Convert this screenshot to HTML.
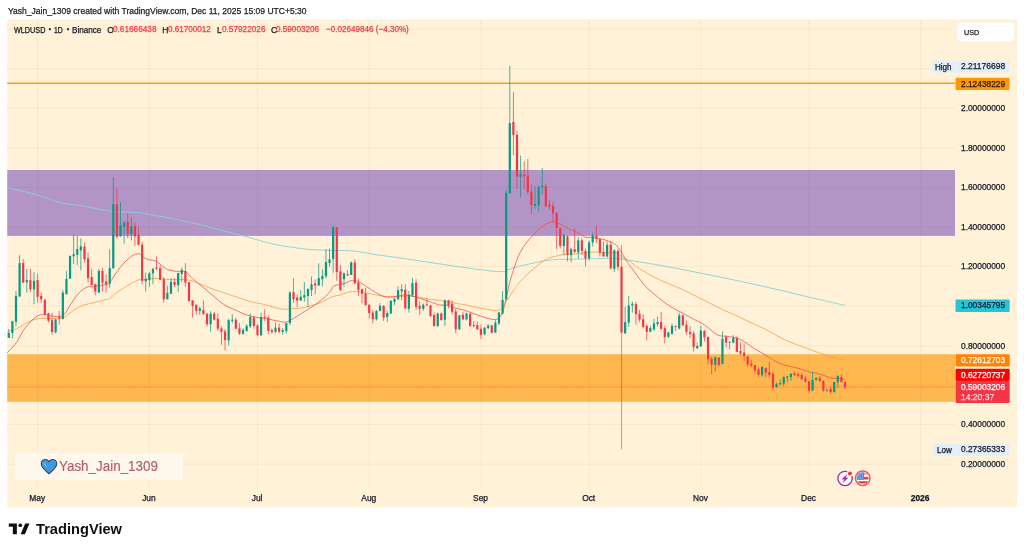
<!DOCTYPE html>
<html><head><meta charset="utf-8"><title>WLDUSD chart</title>
<style>
html,body{margin:0;padding:0;background:#ffffff;}
body{width:1024px;height:551px;position:relative;overflow:hidden;font-family:"Liberation Sans",sans-serif;}
.t{position:absolute;white-space:nowrap;display:block;transform-origin:0 0;-webkit-text-stroke:0.25px currentColor;}
</style></head><body>
<svg width="1024" height="551" viewBox="0 0 1024 551" style="position:absolute;left:0;top:0">
<rect x="7.25" y="19.3" width="1009.75" height="488.3" fill="#FFF2D8"/>
<rect x="7.25" y="170.0" width="947.75" height="65.9" fill="#B294C7"/>
<rect x="7.25" y="354.2" width="947.75" height="47.6" fill="#FFB74F"/>
<rect x="37.10" y="19.3" width="1" height="468.1" fill="rgba(120,90,20,0.06)"/>
<rect x="148.84" y="19.3" width="1" height="468.1" fill="rgba(120,90,20,0.06)"/>
<rect x="256.97" y="19.3" width="1" height="468.1" fill="rgba(120,90,20,0.06)"/>
<rect x="368.71" y="19.3" width="1" height="468.1" fill="rgba(120,90,20,0.06)"/>
<rect x="480.45" y="19.3" width="1" height="468.1" fill="rgba(120,90,20,0.06)"/>
<rect x="588.59" y="19.3" width="1" height="468.1" fill="rgba(120,90,20,0.06)"/>
<rect x="700.33" y="19.3" width="1" height="468.1" fill="rgba(120,90,20,0.06)"/>
<rect x="808.46" y="19.3" width="1" height="468.1" fill="rgba(120,90,20,0.06)"/>
<rect x="920.20" y="19.3" width="1" height="468.1" fill="rgba(120,90,20,0.06)"/>
<rect x="7.25" y="463.66" width="947.75" height="1" fill="rgba(120,90,20,0.06)"/>
<rect x="7.25" y="424.12" width="947.75" height="1" fill="rgba(120,90,20,0.06)"/>
<rect x="7.25" y="384.58" width="947.75" height="1" fill="rgba(120,90,20,0.06)"/>
<rect x="7.25" y="345.30" width="947.75" height="1" fill="rgba(120,90,20,0.06)"/>
<rect x="7.25" y="305.85" width="947.75" height="1" fill="rgba(120,90,20,0.06)"/>
<rect x="7.25" y="265.96" width="947.75" height="1" fill="rgba(120,90,20,0.06)"/>
<rect x="7.25" y="226.42" width="947.75" height="1" fill="rgba(120,90,20,0.06)"/>
<rect x="7.25" y="186.88" width="947.75" height="1" fill="rgba(120,90,20,0.06)"/>
<rect x="7.25" y="147.34" width="947.75" height="1" fill="rgba(120,90,20,0.06)"/>
<rect x="7.25" y="107.80" width="947.75" height="1" fill="rgba(120,90,20,0.06)"/>
<rect x="7.25" y="68.26" width="947.75" height="1" fill="rgba(120,90,20,0.06)"/>
<rect x="7.25" y="28.72" width="947.75" height="1" fill="rgba(120,90,20,0.06)"/>
<rect x="7.25" y="82.6" width="947.75" height="1.4" fill="#FF9800"/>
<line x1="7.25" y1="387.1" x2="955.0" y2="387.1" stroke="#F23645" stroke-width="0.9" stroke-dasharray="0.9 0.9" opacity="0.6"/>
<path d="M7.5 186.8C8.4 187.1 8.6 187.6 13.4 188.9C18.2 190.2 30.9 193.2 37.6 195.1C44.3 197.0 50.4 199.6 55.1 201.0C59.8 202.4 62.8 203.3 66.8 204.0C70.8 204.7 75.9 204.8 80.2 205.5C84.5 206.2 89.2 207.3 93.5 208.1C97.8 208.9 103.7 210.0 106.9 210.5C110.1 211.0 108.5 211.2 113.6 211.5C118.7 211.8 132.7 212.1 138.6 212.6C144.5 213.1 145.3 213.7 150.3 214.6C155.3 215.5 161.8 216.5 170.0 218.2C178.2 219.9 193.7 223.1 201.7 225.0C209.7 226.9 213.4 228.3 220.1 230.0C226.8 231.7 237.6 234.3 243.5 235.9C249.4 237.5 252.0 238.4 256.8 239.7C261.6 241.0 268.2 243.0 273.5 244.2C278.8 245.4 284.9 246.2 290.2 247.0C295.5 247.8 301.6 248.7 306.9 249.2C312.2 249.7 318.7 250.0 323.6 250.2C328.5 250.4 332.4 250.2 337.6 250.4C342.8 250.6 350.4 250.7 356.4 251.4C362.4 252.1 368.2 253.4 375.2 254.5C382.2 255.6 393.1 257.0 400.3 258.0C407.5 259.0 413.6 260.0 420.0 261.0C426.4 262.0 432.2 262.8 440.2 264.0C448.2 265.2 462.3 267.3 470.3 268.4C478.3 269.5 485.5 270.4 490.3 270.9C495.1 271.4 497.9 271.5 500.3 271.6C502.7 271.7 504.0 271.6 505.3 271.3C506.6 271.0 506.3 270.6 508.4 269.8C510.5 269.0 514.8 267.4 518.5 266.4C522.2 265.4 527.8 264.3 531.8 263.4C535.8 262.5 540.0 261.5 543.5 260.9C547.0 260.3 549.8 260.0 553.5 259.7C557.2 259.4 561.6 259.3 566.9 259.2C572.2 259.1 581.0 259.0 586.9 258.9C592.8 258.8 599.3 258.5 603.6 258.4C607.9 258.3 610.9 258.3 613.6 258.4C616.3 258.5 617.7 258.6 620.3 258.9C622.9 259.2 626.3 259.8 630.0 260.4C633.7 261.0 637.6 261.6 643.6 262.6C649.6 263.6 659.6 265.2 667.2 266.6C674.8 268.0 683.2 269.7 690.8 271.2C698.4 272.7 706.8 274.4 714.4 275.9C722.0 277.4 730.4 279.2 738.0 280.8C745.6 282.4 754.0 284.3 761.6 286.0C769.2 287.7 777.6 289.6 785.2 291.4C792.8 293.2 801.2 295.3 808.8 297.1C816.4 298.9 826.7 301.2 832.4 302.5C838.1 303.8 842.6 304.8 844.5 305.2" fill="none" stroke="#84D2DB" stroke-width="1.0" stroke-linejoin="round" stroke-linecap="round" opacity="0.92"/>
<path d="M7.5 331.7C9.0 331.2 13.6 330.1 16.7 328.7C19.8 327.3 23.5 324.4 26.7 322.8C29.9 321.2 33.2 319.7 36.7 319.0C40.2 318.3 45.2 318.3 48.4 318.3C51.6 318.3 54.1 318.9 56.8 318.7C59.5 318.5 62.3 318.4 65.0 317.0C67.7 315.6 70.5 312.1 73.5 310.2C76.5 308.3 80.3 306.4 83.5 305.2C86.7 304.0 90.3 303.5 93.5 302.7C96.7 301.9 101.0 300.9 103.5 300.2C106.0 299.5 107.3 299.7 109.4 298.5C111.5 297.3 114.1 294.6 116.9 292.6C119.7 290.6 123.4 288.0 126.9 286.0C130.4 284.0 135.4 280.9 138.6 279.8C141.8 278.7 144.1 279.5 147.0 279.3C149.9 279.1 153.3 278.4 157.0 278.4C160.7 278.4 165.2 279.4 170.0 279.6C174.8 279.8 182.4 279.3 186.7 279.8C191.0 280.3 193.0 281.3 196.7 282.6C200.4 283.9 205.8 286.5 210.1 288.1C214.4 289.7 219.1 291.2 223.4 292.6C227.7 294.0 232.5 295.7 236.8 297.1C241.1 298.5 245.9 300.3 250.2 301.5C254.5 302.7 259.8 303.4 263.5 304.3C267.2 305.2 270.3 306.4 273.5 307.2C276.7 308.0 280.9 309.0 283.6 309.3C286.3 309.6 287.5 309.0 290.2 308.8C292.9 308.6 297.1 308.6 300.3 308.2C303.5 307.8 307.1 306.9 310.3 306.0C313.5 305.1 317.6 303.8 320.3 302.7C323.0 301.6 325.0 300.3 327.0 299.3C329.0 298.3 330.7 297.2 332.8 296.5C334.9 295.8 337.5 295.7 340.0 295.0C342.5 294.3 345.7 292.7 348.4 292.1C351.1 291.5 353.8 291.2 356.7 291.4C359.6 291.6 363.5 292.5 366.7 293.1C369.9 293.7 373.5 294.5 376.7 295.1C379.9 295.7 383.6 296.5 386.8 296.8C390.0 297.1 393.6 296.9 396.8 296.8C400.0 296.7 403.6 295.9 406.8 295.9C410.0 295.9 413.1 296.3 416.8 296.8C420.5 297.3 425.9 298.6 430.2 299.3C434.5 300.0 439.2 300.2 443.5 300.9C447.8 301.6 452.6 302.6 456.9 303.4C461.2 304.2 466.3 305.1 470.3 305.9C474.3 306.7 478.5 307.7 482.0 308.4C485.5 309.1 489.3 309.8 492.0 310.1C494.7 310.4 497.1 310.9 499.0 310.1C500.9 309.3 502.0 307.5 503.8 305.2C505.6 302.9 507.7 299.3 510.1 295.8C512.5 292.3 515.3 287.3 518.5 283.5C521.7 279.7 526.1 275.4 530.1 271.8C534.1 268.2 539.8 263.3 543.5 260.9C547.2 258.5 550.3 257.7 553.5 256.7C556.7 255.7 559.8 255.2 563.5 254.7C567.2 254.2 572.1 254.1 576.9 253.7C581.7 253.3 588.8 252.3 593.6 252.1C598.4 251.9 603.3 252.4 607.0 252.6C610.7 252.8 614.5 252.6 617.0 253.4C619.5 254.2 620.7 256.3 622.8 257.6C624.9 258.9 627.4 259.8 630.0 261.5C632.6 263.2 634.8 265.7 638.9 268.3C643.0 270.9 650.1 275.1 655.4 277.8C660.7 280.5 667.3 283.0 671.8 285.0C676.3 287.0 679.5 288.1 683.5 290.0C687.5 291.9 692.6 294.6 696.9 296.7C701.2 298.8 705.9 301.3 710.2 303.4C714.5 305.5 719.3 308.1 723.6 310.1C727.9 312.1 733.2 314.2 736.9 315.9C740.6 317.6 743.7 319.4 747.0 320.9C750.3 322.4 753.9 323.9 757.3 325.5C760.7 327.1 764.8 328.9 768.4 330.8C772.0 332.7 776.1 335.5 780.1 337.5C784.1 339.5 789.2 341.7 793.5 343.4C797.8 345.1 802.8 346.9 806.8 348.4C810.8 349.9 814.8 351.3 818.5 352.6C822.2 353.9 826.0 355.5 830.2 356.7C834.4 357.9 842.2 359.5 844.5 360.0" fill="none" stroke="#FF9C42" stroke-width="0.95" stroke-linejoin="round" stroke-linecap="round" opacity="0.85"/>
<path d="M7.5 352.6C9.0 350.9 14.2 345.7 16.7 342.1C19.2 338.5 21.3 333.6 23.4 330.4C25.5 327.2 28.1 324.1 30.1 322.0C32.1 319.9 33.8 318.2 35.9 317.0C38.0 315.8 40.3 314.4 43.4 314.3C46.5 314.2 51.9 316.4 55.1 316.5C58.3 316.6 61.1 317.0 63.5 315.2C65.9 313.4 67.7 308.7 70.1 305.2C72.5 301.7 75.8 296.4 78.5 293.5C81.2 290.6 84.4 288.2 86.8 287.1C89.2 286.0 91.4 287.1 93.5 286.8C95.6 286.5 98.1 285.9 100.2 285.5C102.3 285.1 105.3 284.9 106.9 284.3C108.5 283.7 108.6 283.8 110.2 281.8C111.8 279.8 114.8 274.7 116.9 271.8C119.0 268.9 121.2 265.9 123.6 263.4C126.0 260.9 129.5 257.5 131.9 255.9C134.3 254.3 137.0 253.7 138.6 253.7C140.2 253.7 140.6 255.0 141.9 255.9C143.2 256.8 144.9 258.4 147.0 259.2C149.1 260.0 153.2 260.1 155.3 260.9C157.4 261.7 158.7 263.0 160.3 264.2C161.9 265.4 163.7 267.4 165.3 268.4C166.9 269.4 168.2 269.7 170.0 270.2C171.8 270.7 174.2 271.1 176.7 271.4C179.2 271.7 182.7 270.5 185.4 271.8C188.1 273.1 190.5 276.8 193.4 279.3C196.3 281.8 200.2 284.9 203.4 287.6C206.6 290.3 209.9 293.2 213.4 296.0C216.9 298.8 221.4 303.0 225.1 305.3C228.8 307.6 233.6 309.1 236.8 310.6C240.0 312.1 242.0 313.4 245.2 314.5C248.4 315.6 253.3 316.7 256.8 317.4C260.3 318.1 263.7 318.1 266.9 318.7C270.1 319.3 274.0 320.4 276.9 320.9C279.8 321.4 283.1 322.2 285.2 322.1C287.3 322.0 288.3 321.0 290.2 320.1C292.1 319.2 294.2 318.0 296.9 316.4C299.6 314.8 303.7 312.1 306.9 310.0C310.1 307.9 314.1 305.5 317.0 303.4C319.9 301.3 323.0 298.8 325.3 296.7C327.6 294.6 330.0 291.6 331.2 290.0C332.4 288.4 331.9 287.6 332.8 286.8C333.7 286.0 335.8 285.2 337.0 284.8C338.2 284.4 338.4 285.0 340.0 284.6C341.6 284.2 344.7 283.3 346.7 282.6C348.7 281.9 350.6 280.5 352.5 280.4C354.4 280.3 356.1 280.7 358.4 281.7C360.7 282.7 363.8 284.9 366.7 286.7C369.6 288.5 373.8 291.5 376.7 293.1C379.6 294.7 382.4 296.2 385.1 296.8C387.8 297.4 390.5 297.1 393.4 296.8C396.3 296.5 400.6 295.2 403.5 295.1C406.4 295.0 409.1 295.4 411.8 295.9C414.5 296.4 417.3 297.5 420.2 298.4C423.1 299.3 427.0 300.7 430.2 301.8C433.4 302.9 437.5 304.6 440.2 305.1C442.9 305.6 444.8 304.7 446.9 305.1C449.0 305.5 450.9 306.8 453.6 307.6C456.3 308.4 460.4 309.2 463.6 310.1C466.8 311.0 470.4 312.4 473.6 313.5C476.8 314.6 480.7 316.2 483.6 317.1C486.5 318.0 489.7 319.0 492.0 319.3C494.3 319.6 496.2 319.7 497.8 318.8C499.4 317.9 500.8 316.1 502.0 313.5C503.2 310.9 504.3 306.1 505.2 302.5C506.1 298.9 507.0 294.3 507.8 290.9C508.6 287.5 508.7 285.9 510.1 281.0C511.5 276.1 514.7 265.6 516.8 260.1C518.9 254.6 521.1 250.5 523.5 246.7C525.9 242.9 528.9 239.8 531.8 236.6C534.7 233.4 539.1 229.2 541.8 227.0C544.5 224.8 546.6 223.8 548.5 223.0C550.4 222.2 551.6 221.9 553.5 222.1C555.4 222.3 557.8 223.0 560.2 224.1C562.6 225.2 565.9 227.5 568.6 228.8C571.3 230.1 574.2 230.9 576.9 232.2C579.6 233.5 582.9 236.4 585.3 237.2C587.7 238.0 589.8 237.3 591.9 237.5C594.0 237.7 596.2 238.0 598.6 238.5C601.0 239.0 604.6 239.7 607.0 240.5C609.4 241.3 612.0 242.6 613.6 243.5C615.2 244.4 615.7 244.3 617.0 245.9C618.3 247.5 620.4 250.9 622.0 253.4C623.6 255.9 625.7 259.7 627.0 261.7C628.3 263.7 627.2 262.2 630.0 265.9C632.8 269.6 640.6 280.6 644.3 285.0C648.0 289.4 650.3 290.7 653.4 293.4C656.5 296.1 660.3 299.3 663.5 301.7C666.7 304.1 670.3 306.5 673.5 308.4C676.7 310.3 680.3 311.7 683.5 313.4C686.7 315.1 690.3 317.5 693.5 319.2C696.7 320.9 700.6 322.3 703.5 324.2C706.4 326.1 709.5 329.1 711.9 330.9C714.3 332.7 716.2 334.5 718.6 335.4C721.0 336.3 724.0 336.0 726.9 336.4C729.8 336.8 733.8 337.0 736.9 338.0C740.0 339.0 743.1 341.0 746.0 342.8C748.9 344.6 752.1 347.2 755.0 349.0C757.9 350.8 761.1 352.4 764.0 354.2C766.9 356.0 770.6 358.5 773.4 360.1C776.2 361.7 779.1 363.2 781.8 364.2C784.5 365.2 787.2 365.7 790.1 366.4C793.0 367.1 797.2 367.9 800.1 368.8C803.0 369.7 805.8 371.1 808.5 371.8C811.2 372.5 814.1 372.7 816.8 373.4C819.5 374.1 822.8 375.1 825.2 375.9C827.6 376.7 830.0 378.0 831.9 378.4C833.8 378.8 834.9 378.2 836.9 378.4C838.9 378.6 843.3 379.3 844.5 379.5" fill="none" stroke="#F44B4B" stroke-width="0.95" stroke-linejoin="round" stroke-linecap="round" opacity="0.82"/>
<rect x="8.31" y="329.0" width="0.9" height="8.9" fill="#089981" opacity="0.8"/>
<rect x="7.66" y="332.9" width="2.2" height="5.0" fill="#089981"/>
<rect x="11.92" y="320.7" width="0.9" height="17.7" fill="#089981" opacity="0.8"/>
<rect x="11.27" y="321.2" width="2.2" height="11.7" fill="#089981"/>
<rect x="15.52" y="291.0" width="0.9" height="35.2" fill="#089981" opacity="0.8"/>
<rect x="14.87" y="296.0" width="2.2" height="25.7" fill="#089981"/>
<rect x="19.13" y="255.1" width="0.9" height="41.4" fill="#089981" opacity="0.8"/>
<rect x="18.48" y="263.1" width="2.2" height="33.4" fill="#089981"/>
<rect x="22.73" y="259.2" width="0.9" height="23.4" fill="#F23645" opacity="0.8"/>
<rect x="22.08" y="263.1" width="2.2" height="19.5" fill="#F23645"/>
<rect x="26.34" y="268.8" width="0.9" height="23.8" fill="#089981" opacity="0.8"/>
<rect x="25.69" y="280.1" width="2.2" height="2.2" fill="#089981"/>
<rect x="29.94" y="268.8" width="0.9" height="23.0" fill="#F23645" opacity="0.8"/>
<rect x="29.29" y="280.1" width="2.2" height="9.2" fill="#F23645"/>
<rect x="33.55" y="272.3" width="0.9" height="32.0" fill="#089981" opacity="0.8"/>
<rect x="32.90" y="280.9" width="2.2" height="8.4" fill="#089981"/>
<rect x="37.15" y="273.4" width="0.9" height="29.3" fill="#F23645" opacity="0.8"/>
<rect x="36.50" y="280.1" width="2.2" height="16.7" fill="#F23645"/>
<rect x="40.75" y="292.6" width="0.9" height="10.1" fill="#F23645" opacity="0.8"/>
<rect x="40.10" y="296.0" width="2.2" height="3.3" fill="#F23645"/>
<rect x="44.36" y="299.3" width="0.9" height="16.7" fill="#F23645" opacity="0.8"/>
<rect x="43.71" y="299.8" width="2.2" height="14.5" fill="#F23645"/>
<rect x="47.96" y="312.7" width="0.9" height="9.6" fill="#F23645" opacity="0.8"/>
<rect x="47.31" y="313.5" width="2.2" height="7.2" fill="#F23645"/>
<rect x="51.57" y="312.7" width="0.9" height="21.8" fill="#F23645" opacity="0.8"/>
<rect x="50.92" y="320.3" width="2.2" height="11.7" fill="#F23645"/>
<rect x="55.17" y="318.7" width="0.9" height="14.7" fill="#089981" opacity="0.8"/>
<rect x="54.52" y="319.5" width="2.2" height="12.9" fill="#089981"/>
<rect x="58.78" y="311.0" width="0.9" height="13.7" fill="#F23645" opacity="0.8"/>
<rect x="58.13" y="316.9" width="2.2" height="1.4" fill="#F23645"/>
<rect x="62.38" y="290.1" width="0.9" height="29.4" fill="#089981" opacity="0.8"/>
<rect x="61.73" y="292.6" width="2.2" height="26.4" fill="#089981"/>
<rect x="65.99" y="270.9" width="0.9" height="23.4" fill="#089981" opacity="0.8"/>
<rect x="65.34" y="278.8" width="2.2" height="15.5" fill="#089981"/>
<rect x="69.59" y="255.6" width="0.9" height="23.2" fill="#089981" opacity="0.8"/>
<rect x="68.94" y="255.9" width="2.2" height="22.9" fill="#089981"/>
<rect x="73.20" y="234.2" width="0.9" height="30.0" fill="#089981" opacity="0.8"/>
<rect x="72.55" y="254.2" width="2.2" height="2.2" fill="#089981"/>
<rect x="76.80" y="235.9" width="0.9" height="29.2" fill="#089981" opacity="0.8"/>
<rect x="76.15" y="249.2" width="2.2" height="5.5" fill="#089981"/>
<rect x="80.40" y="238.4" width="0.9" height="32.0" fill="#089981" opacity="0.8"/>
<rect x="79.75" y="246.4" width="2.2" height="4.0" fill="#089981"/>
<rect x="84.01" y="242.5" width="0.9" height="20.1" fill="#F23645" opacity="0.8"/>
<rect x="83.36" y="246.7" width="2.2" height="12.5" fill="#F23645"/>
<rect x="87.61" y="252.6" width="0.9" height="30.0" fill="#F23645" opacity="0.8"/>
<rect x="86.96" y="258.4" width="2.2" height="19.7" fill="#F23645"/>
<rect x="91.22" y="268.8" width="0.9" height="17.2" fill="#F23645" opacity="0.8"/>
<rect x="90.57" y="277.1" width="2.2" height="8.0" fill="#F23645"/>
<rect x="94.82" y="283.5" width="0.9" height="11.6" fill="#F23645" opacity="0.8"/>
<rect x="94.17" y="284.3" width="2.2" height="7.2" fill="#F23645"/>
<rect x="98.43" y="268.8" width="0.9" height="23.8" fill="#089981" opacity="0.8"/>
<rect x="97.78" y="270.9" width="2.2" height="21.7" fill="#089981"/>
<rect x="102.03" y="268.1" width="0.9" height="23.7" fill="#F23645" opacity="0.8"/>
<rect x="101.38" y="270.9" width="2.2" height="11.7" fill="#F23645"/>
<rect x="105.64" y="274.3" width="0.9" height="18.3" fill="#F23645" opacity="0.8"/>
<rect x="104.99" y="281.4" width="2.2" height="2.9" fill="#F23645"/>
<rect x="109.24" y="249.2" width="0.9" height="38.4" fill="#089981" opacity="0.8"/>
<rect x="108.59" y="268.1" width="2.2" height="15.4" fill="#089981"/>
<rect x="112.84" y="177.1" width="0.9" height="91.3" fill="#089981" opacity="0.8"/>
<rect x="112.19" y="204.3" width="2.2" height="64.1" fill="#089981"/>
<rect x="116.45" y="188.1" width="0.9" height="50.6" fill="#F23645" opacity="0.8"/>
<rect x="115.80" y="204.3" width="2.2" height="32.4" fill="#F23645"/>
<rect x="120.05" y="202.1" width="0.9" height="34.3" fill="#089981" opacity="0.8"/>
<rect x="119.40" y="225.2" width="2.2" height="11.2" fill="#089981"/>
<rect x="123.66" y="221.0" width="0.9" height="22.7" fill="#089981" opacity="0.8"/>
<rect x="123.01" y="223.0" width="2.2" height="3.8" fill="#089981"/>
<rect x="127.26" y="213.1" width="0.9" height="24.9" fill="#F23645" opacity="0.8"/>
<rect x="126.61" y="221.8" width="2.2" height="12.4" fill="#F23645"/>
<rect x="130.87" y="217.2" width="0.9" height="23.2" fill="#089981" opacity="0.8"/>
<rect x="130.22" y="226.0" width="2.2" height="8.2" fill="#089981"/>
<rect x="134.47" y="222.7" width="0.9" height="23.2" fill="#F23645" opacity="0.8"/>
<rect x="133.82" y="226.0" width="2.2" height="10.4" fill="#F23645"/>
<rect x="138.08" y="226.8" width="0.9" height="18.6" fill="#F23645" opacity="0.8"/>
<rect x="137.43" y="235.0" width="2.2" height="9.7" fill="#F23645"/>
<rect x="141.68" y="241.7" width="0.9" height="42.6" fill="#F23645" opacity="0.8"/>
<rect x="141.03" y="244.7" width="2.2" height="36.2" fill="#F23645"/>
<rect x="145.28" y="272.6" width="0.9" height="18.9" fill="#089981" opacity="0.8"/>
<rect x="144.63" y="278.8" width="2.2" height="2.6" fill="#089981"/>
<rect x="148.89" y="271.8" width="0.9" height="15.0" fill="#089981" opacity="0.8"/>
<rect x="148.24" y="273.4" width="2.2" height="6.7" fill="#089981"/>
<rect x="152.49" y="268.1" width="0.9" height="16.2" fill="#089981" opacity="0.8"/>
<rect x="151.84" y="268.8" width="2.2" height="4.6" fill="#089981"/>
<rect x="156.10" y="256.4" width="0.9" height="14.0" fill="#F23645" opacity="0.8"/>
<rect x="155.45" y="267.5" width="2.2" height="1.3" fill="#F23645"/>
<rect x="159.70" y="265.1" width="0.9" height="14.7" fill="#F23645" opacity="0.8"/>
<rect x="159.05" y="268.1" width="2.2" height="11.7" fill="#F23645"/>
<rect x="163.31" y="277.1" width="0.9" height="25.6" fill="#F23645" opacity="0.8"/>
<rect x="162.66" y="279.3" width="2.2" height="20.0" fill="#F23645"/>
<rect x="166.91" y="285.5" width="0.9" height="13.8" fill="#089981" opacity="0.8"/>
<rect x="166.26" y="293.1" width="2.2" height="6.2" fill="#089981"/>
<rect x="170.52" y="278.1" width="0.9" height="15.7" fill="#089981" opacity="0.8"/>
<rect x="169.87" y="281.8" width="2.2" height="12.0" fill="#089981"/>
<rect x="174.12" y="278.1" width="0.9" height="9.0" fill="#F23645" opacity="0.8"/>
<rect x="173.47" y="282.1" width="2.2" height="2.7" fill="#F23645"/>
<rect x="177.73" y="272.6" width="0.9" height="19.5" fill="#089981" opacity="0.8"/>
<rect x="177.08" y="273.1" width="2.2" height="12.0" fill="#089981"/>
<rect x="181.33" y="267.6" width="0.9" height="14.2" fill="#089981" opacity="0.8"/>
<rect x="180.68" y="269.8" width="2.2" height="4.0" fill="#089981"/>
<rect x="184.93" y="263.1" width="0.9" height="23.7" fill="#F23645" opacity="0.8"/>
<rect x="184.28" y="270.9" width="2.2" height="11.7" fill="#F23645"/>
<rect x="188.54" y="281.8" width="0.9" height="19.9" fill="#F23645" opacity="0.8"/>
<rect x="187.89" y="282.1" width="2.2" height="18.9" fill="#F23645"/>
<rect x="192.14" y="300.2" width="0.9" height="17.4" fill="#F23645" opacity="0.8"/>
<rect x="191.49" y="300.4" width="2.2" height="5.5" fill="#F23645"/>
<rect x="195.75" y="304.8" width="0.9" height="9.9" fill="#F23645" opacity="0.8"/>
<rect x="195.10" y="304.7" width="2.2" height="6.2" fill="#F23645"/>
<rect x="199.35" y="306.7" width="0.9" height="8.0" fill="#089981" opacity="0.8"/>
<rect x="198.70" y="308.4" width="2.2" height="2.5" fill="#089981"/>
<rect x="202.96" y="300.4" width="0.9" height="14.3" fill="#F23645" opacity="0.8"/>
<rect x="202.31" y="310.0" width="2.2" height="4.2" fill="#F23645"/>
<rect x="206.56" y="313.4" width="0.9" height="13.3" fill="#F23645" opacity="0.8"/>
<rect x="205.91" y="313.7" width="2.2" height="10.5" fill="#F23645"/>
<rect x="210.17" y="311.2" width="0.9" height="20.6" fill="#089981" opacity="0.8"/>
<rect x="209.52" y="313.7" width="2.2" height="10.5" fill="#089981"/>
<rect x="213.77" y="312.0" width="0.9" height="8.4" fill="#F23645" opacity="0.8"/>
<rect x="213.12" y="313.7" width="2.2" height="6.0" fill="#F23645"/>
<rect x="217.38" y="313.4" width="0.9" height="17.5" fill="#F23645" opacity="0.8"/>
<rect x="216.72" y="318.7" width="2.2" height="10.0" fill="#F23645"/>
<rect x="220.98" y="326.4" width="0.9" height="18.4" fill="#F23645" opacity="0.8"/>
<rect x="220.33" y="328.4" width="2.2" height="3.4" fill="#F23645"/>
<rect x="224.58" y="329.2" width="0.9" height="21.3" fill="#F23645" opacity="0.8"/>
<rect x="223.93" y="331.4" width="2.2" height="8.7" fill="#F23645"/>
<rect x="228.19" y="318.7" width="0.9" height="26.7" fill="#089981" opacity="0.8"/>
<rect x="227.54" y="320.1" width="2.2" height="20.3" fill="#089981"/>
<rect x="231.79" y="314.2" width="0.9" height="9.2" fill="#089981" opacity="0.8"/>
<rect x="231.14" y="319.7" width="2.2" height="1.2" fill="#089981"/>
<rect x="235.40" y="317.6" width="0.9" height="11.6" fill="#F23645" opacity="0.8"/>
<rect x="234.75" y="319.7" width="2.2" height="9.0" fill="#F23645"/>
<rect x="239.00" y="323.1" width="0.9" height="11.7" fill="#F23645" opacity="0.8"/>
<rect x="238.35" y="328.4" width="2.2" height="5.4" fill="#F23645"/>
<rect x="242.61" y="328.1" width="0.9" height="6.7" fill="#089981" opacity="0.8"/>
<rect x="241.96" y="330.1" width="2.2" height="3.7" fill="#089981"/>
<rect x="246.21" y="324.2" width="0.9" height="7.6" fill="#089981" opacity="0.8"/>
<rect x="245.56" y="325.9" width="2.2" height="5.0" fill="#089981"/>
<rect x="249.82" y="313.4" width="0.9" height="14.7" fill="#089981" opacity="0.8"/>
<rect x="249.17" y="317.1" width="2.2" height="9.3" fill="#089981"/>
<rect x="253.42" y="315.9" width="0.9" height="12.8" fill="#F23645" opacity="0.8"/>
<rect x="252.77" y="317.6" width="2.2" height="8.3" fill="#F23645"/>
<rect x="257.02" y="324.2" width="0.9" height="12.2" fill="#F23645" opacity="0.8"/>
<rect x="256.37" y="325.4" width="2.2" height="9.7" fill="#F23645"/>
<rect x="260.63" y="312.5" width="0.9" height="22.9" fill="#089981" opacity="0.8"/>
<rect x="259.98" y="317.1" width="2.2" height="18.3" fill="#089981"/>
<rect x="264.23" y="309.2" width="0.9" height="11.7" fill="#F23645" opacity="0.8"/>
<rect x="263.58" y="316.7" width="2.2" height="1.0" fill="#F23645"/>
<rect x="267.84" y="315.4" width="0.9" height="18.4" fill="#F23645" opacity="0.8"/>
<rect x="267.19" y="317.6" width="2.2" height="13.3" fill="#F23645"/>
<rect x="271.44" y="328.7" width="0.9" height="5.1" fill="#F23645" opacity="0.8"/>
<rect x="270.79" y="330.1" width="2.2" height="1.7" fill="#F23645"/>
<rect x="275.05" y="322.6" width="0.9" height="10.8" fill="#089981" opacity="0.8"/>
<rect x="274.40" y="327.6" width="2.2" height="4.2" fill="#089981"/>
<rect x="278.65" y="323.4" width="0.9" height="10.0" fill="#F23645" opacity="0.8"/>
<rect x="278.00" y="327.6" width="2.2" height="4.2" fill="#F23645"/>
<rect x="282.26" y="328.1" width="0.9" height="6.7" fill="#089981" opacity="0.8"/>
<rect x="281.61" y="330.1" width="2.2" height="1.7" fill="#089981"/>
<rect x="285.86" y="322.6" width="0.9" height="10.8" fill="#089981" opacity="0.8"/>
<rect x="285.21" y="323.1" width="2.2" height="7.8" fill="#089981"/>
<rect x="289.47" y="291.0" width="0.9" height="34.1" fill="#089981" opacity="0.8"/>
<rect x="288.81" y="292.6" width="2.2" height="30.5" fill="#089981"/>
<rect x="293.07" y="278.1" width="0.9" height="24.6" fill="#F23645" opacity="0.8"/>
<rect x="292.42" y="292.1" width="2.2" height="7.2" fill="#F23645"/>
<rect x="296.67" y="294.3" width="0.9" height="12.5" fill="#F23645" opacity="0.8"/>
<rect x="296.02" y="297.6" width="2.2" height="2.9" fill="#F23645"/>
<rect x="300.28" y="290.1" width="0.9" height="10.9" fill="#089981" opacity="0.8"/>
<rect x="299.63" y="296.8" width="2.2" height="3.7" fill="#089981"/>
<rect x="303.88" y="282.1" width="0.9" height="19.7" fill="#089981" opacity="0.8"/>
<rect x="303.23" y="295.1" width="2.2" height="2.5" fill="#089981"/>
<rect x="307.49" y="288.5" width="0.9" height="18.7" fill="#089981" opacity="0.8"/>
<rect x="306.84" y="289.0" width="2.2" height="7.0" fill="#089981"/>
<rect x="311.09" y="276.4" width="0.9" height="19.6" fill="#089981" opacity="0.8"/>
<rect x="310.44" y="284.3" width="2.2" height="5.8" fill="#089981"/>
<rect x="314.70" y="279.3" width="0.9" height="15.0" fill="#F23645" opacity="0.8"/>
<rect x="314.05" y="283.5" width="2.2" height="2.0" fill="#F23645"/>
<rect x="318.30" y="263.4" width="0.9" height="22.6" fill="#089981" opacity="0.8"/>
<rect x="317.65" y="278.1" width="2.2" height="7.4" fill="#089981"/>
<rect x="321.91" y="269.3" width="0.9" height="17.2" fill="#089981" opacity="0.8"/>
<rect x="321.26" y="275.9" width="2.2" height="3.4" fill="#089981"/>
<rect x="325.51" y="249.1" width="0.9" height="29.3" fill="#089981" opacity="0.8"/>
<rect x="324.86" y="262.0" width="2.2" height="14.4" fill="#089981"/>
<rect x="329.11" y="248.5" width="0.9" height="18.3" fill="#089981" opacity="0.8"/>
<rect x="328.46" y="259.4" width="2.2" height="3.6" fill="#089981"/>
<rect x="332.72" y="226.1" width="0.9" height="46.6" fill="#089981" opacity="0.8"/>
<rect x="332.07" y="227.3" width="2.2" height="31.6" fill="#089981"/>
<rect x="336.32" y="226.9" width="0.9" height="54.0" fill="#F23645" opacity="0.8"/>
<rect x="335.67" y="227.3" width="2.2" height="44.7" fill="#F23645"/>
<rect x="339.93" y="265.2" width="0.9" height="25.8" fill="#F23645" opacity="0.8"/>
<rect x="339.28" y="271.4" width="2.2" height="18.7" fill="#F23645"/>
<rect x="343.53" y="272.5" width="0.9" height="14.2" fill="#089981" opacity="0.8"/>
<rect x="342.88" y="273.4" width="2.2" height="5.8" fill="#089981"/>
<rect x="347.14" y="270.0" width="0.9" height="5.9" fill="#F23645" opacity="0.8"/>
<rect x="346.49" y="274.2" width="2.2" height="1.2" fill="#F23645"/>
<rect x="350.74" y="261.3" width="0.9" height="13.7" fill="#089981" opacity="0.8"/>
<rect x="350.09" y="262.5" width="2.2" height="12.5" fill="#089981"/>
<rect x="354.35" y="259.2" width="0.9" height="25.0" fill="#F23645" opacity="0.8"/>
<rect x="353.70" y="262.5" width="2.2" height="20.9" fill="#F23645"/>
<rect x="357.95" y="278.7" width="0.9" height="17.2" fill="#F23645" opacity="0.8"/>
<rect x="357.30" y="282.6" width="2.2" height="7.5" fill="#F23645"/>
<rect x="361.56" y="288.4" width="0.9" height="15.0" fill="#F23645" opacity="0.8"/>
<rect x="360.90" y="289.2" width="2.2" height="4.5" fill="#F23645"/>
<rect x="365.16" y="287.6" width="0.9" height="18.3" fill="#F23645" opacity="0.8"/>
<rect x="364.51" y="293.4" width="2.2" height="11.7" fill="#F23645"/>
<rect x="368.76" y="304.3" width="0.9" height="14.2" fill="#F23645" opacity="0.8"/>
<rect x="368.11" y="304.8" width="2.2" height="8.3" fill="#F23645"/>
<rect x="372.37" y="310.1" width="0.9" height="13.4" fill="#F23645" opacity="0.8"/>
<rect x="371.72" y="312.6" width="2.2" height="6.7" fill="#F23645"/>
<rect x="375.97" y="310.1" width="0.9" height="10.4" fill="#089981" opacity="0.8"/>
<rect x="375.32" y="310.9" width="2.2" height="8.4" fill="#089981"/>
<rect x="379.58" y="303.1" width="0.9" height="8.3" fill="#089981" opacity="0.8"/>
<rect x="378.93" y="305.9" width="2.2" height="5.0" fill="#089981"/>
<rect x="383.18" y="305.1" width="0.9" height="15.9" fill="#F23645" opacity="0.8"/>
<rect x="382.53" y="305.9" width="2.2" height="11.7" fill="#F23645"/>
<rect x="386.79" y="310.9" width="0.9" height="10.9" fill="#089981" opacity="0.8"/>
<rect x="386.14" y="313.1" width="2.2" height="4.0" fill="#089981"/>
<rect x="390.39" y="300.1" width="0.9" height="13.4" fill="#089981" opacity="0.8"/>
<rect x="389.74" y="300.9" width="2.2" height="12.6" fill="#089981"/>
<rect x="394.00" y="297.6" width="0.9" height="7.5" fill="#089981" opacity="0.8"/>
<rect x="393.35" y="298.8" width="2.2" height="3.0" fill="#089981"/>
<rect x="397.60" y="286.4" width="0.9" height="13.4" fill="#089981" opacity="0.8"/>
<rect x="396.95" y="290.1" width="2.2" height="9.2" fill="#089981"/>
<rect x="401.20" y="284.2" width="0.9" height="15.9" fill="#089981" opacity="0.8"/>
<rect x="400.55" y="289.2" width="2.2" height="2.2" fill="#089981"/>
<rect x="404.81" y="284.2" width="0.9" height="25.1" fill="#F23645" opacity="0.8"/>
<rect x="404.16" y="289.7" width="2.2" height="18.7" fill="#F23645"/>
<rect x="408.41" y="290.9" width="0.9" height="21.7" fill="#089981" opacity="0.8"/>
<rect x="407.76" y="294.7" width="2.2" height="14.1" fill="#089981"/>
<rect x="412.02" y="278.0" width="0.9" height="18.8" fill="#089981" opacity="0.8"/>
<rect x="411.37" y="283.1" width="2.2" height="12.0" fill="#089981"/>
<rect x="415.62" y="279.2" width="0.9" height="30.6" fill="#F23645" opacity="0.8"/>
<rect x="414.97" y="282.6" width="2.2" height="24.2" fill="#F23645"/>
<rect x="419.23" y="301.4" width="0.9" height="13.4" fill="#F23645" opacity="0.8"/>
<rect x="418.58" y="305.9" width="2.2" height="2.9" fill="#F23645"/>
<rect x="422.83" y="303.4" width="0.9" height="7.5" fill="#089981" opacity="0.8"/>
<rect x="422.18" y="304.8" width="2.2" height="4.0" fill="#089981"/>
<rect x="426.44" y="298.8" width="0.9" height="7.6" fill="#F23645" opacity="0.8"/>
<rect x="425.79" y="304.3" width="2.2" height="0.8" fill="#F23645"/>
<rect x="430.04" y="304.8" width="0.9" height="12.0" fill="#F23645" opacity="0.8"/>
<rect x="429.39" y="305.4" width="2.2" height="10.6" fill="#F23645"/>
<rect x="433.65" y="312.6" width="0.9" height="13.9" fill="#F23645" opacity="0.8"/>
<rect x="433.00" y="315.1" width="2.2" height="10.9" fill="#F23645"/>
<rect x="437.25" y="312.6" width="0.9" height="14.5" fill="#089981" opacity="0.8"/>
<rect x="436.60" y="313.5" width="2.2" height="12.5" fill="#089981"/>
<rect x="440.85" y="312.6" width="0.9" height="7.9" fill="#F23645" opacity="0.8"/>
<rect x="440.20" y="313.5" width="2.2" height="6.6" fill="#F23645"/>
<rect x="444.46" y="299.3" width="0.9" height="26.7" fill="#089981" opacity="0.8"/>
<rect x="443.81" y="300.4" width="2.2" height="19.4" fill="#089981"/>
<rect x="448.06" y="299.8" width="0.9" height="8.3" fill="#F23645" opacity="0.8"/>
<rect x="447.41" y="300.4" width="2.2" height="4.7" fill="#F23645"/>
<rect x="451.67" y="300.4" width="0.9" height="13.9" fill="#F23645" opacity="0.8"/>
<rect x="451.02" y="303.8" width="2.2" height="8.0" fill="#F23645"/>
<rect x="455.27" y="308.8" width="0.9" height="24.4" fill="#F23645" opacity="0.8"/>
<rect x="454.62" y="311.4" width="2.2" height="17.9" fill="#F23645"/>
<rect x="458.88" y="314.8" width="0.9" height="15.0" fill="#089981" opacity="0.8"/>
<rect x="458.23" y="315.5" width="2.2" height="13.8" fill="#089981"/>
<rect x="462.48" y="311.8" width="0.9" height="8.3" fill="#F23645" opacity="0.8"/>
<rect x="461.83" y="314.8" width="2.2" height="4.5" fill="#F23645"/>
<rect x="466.09" y="312.6" width="0.9" height="7.9" fill="#089981" opacity="0.8"/>
<rect x="465.44" y="313.5" width="2.2" height="5.8" fill="#089981"/>
<rect x="469.69" y="312.6" width="0.9" height="14.2" fill="#F23645" opacity="0.8"/>
<rect x="469.04" y="313.8" width="2.2" height="12.2" fill="#F23645"/>
<rect x="473.29" y="321.0" width="0.9" height="6.6" fill="#F23645" opacity="0.8"/>
<rect x="472.64" y="325.1" width="2.2" height="0.9" fill="#F23645"/>
<rect x="476.90" y="321.8" width="0.9" height="8.0" fill="#F23645" opacity="0.8"/>
<rect x="476.25" y="325.1" width="2.2" height="4.2" fill="#F23645"/>
<rect x="480.50" y="324.3" width="0.9" height="14.7" fill="#F23645" opacity="0.8"/>
<rect x="479.85" y="328.8" width="2.2" height="6.0" fill="#F23645"/>
<rect x="484.11" y="327.1" width="0.9" height="8.1" fill="#089981" opacity="0.8"/>
<rect x="483.46" y="327.6" width="2.2" height="6.7" fill="#089981"/>
<rect x="487.71" y="324.3" width="0.9" height="5.0" fill="#089981" opacity="0.8"/>
<rect x="487.06" y="325.5" width="2.2" height="2.6" fill="#089981"/>
<rect x="491.32" y="324.8" width="0.9" height="8.7" fill="#F23645" opacity="0.8"/>
<rect x="490.67" y="325.5" width="2.2" height="7.2" fill="#F23645"/>
<rect x="494.92" y="320.1" width="0.9" height="12.6" fill="#089981" opacity="0.8"/>
<rect x="494.27" y="322.6" width="2.2" height="10.1" fill="#089981"/>
<rect x="498.53" y="311.7" width="0.9" height="13.4" fill="#089981" opacity="0.8"/>
<rect x="497.88" y="312.6" width="2.2" height="10.9" fill="#089981"/>
<rect x="502.13" y="291.0" width="0.9" height="23.3" fill="#089981" opacity="0.8"/>
<rect x="501.48" y="299.8" width="2.2" height="13.8" fill="#089981"/>
<rect x="505.74" y="189.6" width="0.9" height="110.2" fill="#089981" opacity="0.8"/>
<rect x="505.08" y="192.9" width="2.2" height="106.4" fill="#089981"/>
<rect x="509.34" y="65.8" width="0.9" height="127.6" fill="#089981" opacity="0.8"/>
<rect x="508.69" y="123.1" width="2.2" height="70.3" fill="#089981"/>
<rect x="512.94" y="92.1" width="0.9" height="62.9" fill="#F23645" opacity="0.8"/>
<rect x="512.29" y="122.1" width="2.2" height="13.1" fill="#F23645"/>
<rect x="516.55" y="131.0" width="0.9" height="58.1" fill="#F23645" opacity="0.8"/>
<rect x="515.90" y="134.8" width="2.2" height="41.9" fill="#F23645"/>
<rect x="520.15" y="155.7" width="0.9" height="41.4" fill="#089981" opacity="0.8"/>
<rect x="519.50" y="174.0" width="2.2" height="2.7" fill="#089981"/>
<rect x="523.76" y="161.2" width="0.9" height="27.9" fill="#F23645" opacity="0.8"/>
<rect x="523.11" y="174.5" width="2.2" height="1.7" fill="#F23645"/>
<rect x="527.36" y="159.0" width="0.9" height="35.1" fill="#F23645" opacity="0.8"/>
<rect x="526.71" y="175.7" width="2.2" height="16.4" fill="#F23645"/>
<rect x="530.97" y="184.6" width="0.9" height="29.2" fill="#F23645" opacity="0.8"/>
<rect x="530.32" y="191.7" width="2.2" height="13.4" fill="#F23645"/>
<rect x="534.57" y="186.2" width="0.9" height="22.6" fill="#089981" opacity="0.8"/>
<rect x="533.92" y="204.1" width="2.2" height="1.7" fill="#089981"/>
<rect x="538.18" y="185.1" width="0.9" height="26.2" fill="#089981" opacity="0.8"/>
<rect x="537.53" y="187.1" width="2.2" height="18.3" fill="#089981"/>
<rect x="541.78" y="167.9" width="0.9" height="26.7" fill="#089981" opacity="0.8"/>
<rect x="541.13" y="185.9" width="2.2" height="1.5" fill="#089981"/>
<rect x="545.38" y="183.4" width="0.9" height="23.7" fill="#F23645" opacity="0.8"/>
<rect x="544.73" y="186.2" width="2.2" height="20.1" fill="#F23645"/>
<rect x="548.99" y="199.6" width="0.9" height="10.0" fill="#F23645" opacity="0.8"/>
<rect x="548.34" y="204.6" width="2.2" height="2.2" fill="#F23645"/>
<rect x="552.59" y="201.8" width="0.9" height="20.3" fill="#F23645" opacity="0.8"/>
<rect x="551.94" y="205.8" width="2.2" height="7.7" fill="#F23645"/>
<rect x="556.20" y="212.1" width="0.9" height="37.1" fill="#F23645" opacity="0.8"/>
<rect x="555.55" y="213.0" width="2.2" height="15.0" fill="#F23645"/>
<rect x="559.80" y="227.5" width="0.9" height="20.9" fill="#F23645" opacity="0.8"/>
<rect x="559.15" y="228.3" width="2.2" height="17.6" fill="#F23645"/>
<rect x="563.41" y="233.7" width="0.9" height="21.4" fill="#089981" opacity="0.8"/>
<rect x="562.76" y="235.4" width="2.2" height="10.5" fill="#089981"/>
<rect x="567.01" y="235.4" width="0.9" height="26.0" fill="#F23645" opacity="0.8"/>
<rect x="566.36" y="236.4" width="2.2" height="18.7" fill="#F23645"/>
<rect x="570.62" y="247.5" width="0.9" height="14.6" fill="#089981" opacity="0.8"/>
<rect x="569.97" y="249.2" width="2.2" height="5.9" fill="#089981"/>
<rect x="574.22" y="228.7" width="0.9" height="23.9" fill="#F23645" opacity="0.8"/>
<rect x="573.57" y="249.2" width="2.2" height="2.9" fill="#F23645"/>
<rect x="577.82" y="237.0" width="0.9" height="21.4" fill="#089981" opacity="0.8"/>
<rect x="577.17" y="240.4" width="2.2" height="11.7" fill="#089981"/>
<rect x="581.43" y="238.0" width="0.9" height="17.1" fill="#F23645" opacity="0.8"/>
<rect x="580.78" y="240.4" width="2.2" height="10.5" fill="#F23645"/>
<rect x="585.03" y="248.7" width="0.9" height="17.7" fill="#F23645" opacity="0.8"/>
<rect x="584.38" y="250.9" width="2.2" height="7.5" fill="#F23645"/>
<rect x="588.64" y="240.4" width="0.9" height="19.7" fill="#089981" opacity="0.8"/>
<rect x="587.99" y="242.5" width="2.2" height="15.9" fill="#089981"/>
<rect x="592.24" y="232.5" width="0.9" height="14.2" fill="#089981" opacity="0.8"/>
<rect x="591.59" y="235.4" width="2.2" height="7.1" fill="#089981"/>
<rect x="595.85" y="225.8" width="0.9" height="17.2" fill="#F23645" opacity="0.8"/>
<rect x="595.20" y="235.9" width="2.2" height="2.8" fill="#F23645"/>
<rect x="599.45" y="238.4" width="0.9" height="18.3" fill="#F23645" opacity="0.8"/>
<rect x="598.80" y="239.2" width="2.2" height="13.4" fill="#F23645"/>
<rect x="603.06" y="241.7" width="0.9" height="15.0" fill="#F23645" opacity="0.8"/>
<rect x="602.41" y="252.1" width="2.2" height="4.3" fill="#F23645"/>
<rect x="606.66" y="241.4" width="0.9" height="16.2" fill="#089981" opacity="0.8"/>
<rect x="606.01" y="244.7" width="2.2" height="11.7" fill="#089981"/>
<rect x="610.27" y="240.9" width="0.9" height="28.4" fill="#F23645" opacity="0.8"/>
<rect x="609.62" y="244.7" width="2.2" height="23.7" fill="#F23645"/>
<rect x="613.87" y="249.2" width="0.9" height="22.9" fill="#089981" opacity="0.8"/>
<rect x="613.22" y="250.4" width="2.2" height="18.4" fill="#089981"/>
<rect x="617.47" y="249.2" width="0.9" height="21.2" fill="#F23645" opacity="0.8"/>
<rect x="616.82" y="250.9" width="2.2" height="15.9" fill="#F23645"/>
<rect x="620.98" y="245.0" width="1.1" height="204.3" fill="#F23645" opacity="0.55"/>
<rect x="620.43" y="266.8" width="2.2" height="65.8" fill="#F23645"/>
<rect x="624.68" y="306.7" width="0.9" height="27.0" fill="#089981" opacity="0.8"/>
<rect x="624.03" y="322.1" width="2.2" height="11.3" fill="#089981"/>
<rect x="628.29" y="295.9" width="0.9" height="30.9" fill="#089981" opacity="0.8"/>
<rect x="627.64" y="305.4" width="2.2" height="17.2" fill="#089981"/>
<rect x="631.89" y="301.7" width="0.9" height="10.9" fill="#089981" opacity="0.8"/>
<rect x="631.24" y="303.7" width="2.2" height="1.7" fill="#089981"/>
<rect x="635.50" y="302.0" width="0.9" height="22.7" fill="#F23645" opacity="0.8"/>
<rect x="634.85" y="304.2" width="2.2" height="10.0" fill="#F23645"/>
<rect x="639.10" y="310.1" width="0.9" height="12.0" fill="#F23645" opacity="0.8"/>
<rect x="638.45" y="313.7" width="2.2" height="6.0" fill="#F23645"/>
<rect x="642.71" y="314.2" width="0.9" height="14.2" fill="#F23645" opacity="0.8"/>
<rect x="642.06" y="319.2" width="2.2" height="7.6" fill="#F23645"/>
<rect x="646.31" y="324.2" width="0.9" height="16.2" fill="#F23645" opacity="0.8"/>
<rect x="645.66" y="325.9" width="2.2" height="5.9" fill="#F23645"/>
<rect x="649.91" y="325.9" width="0.9" height="6.2" fill="#089981" opacity="0.8"/>
<rect x="649.26" y="328.1" width="2.2" height="3.7" fill="#089981"/>
<rect x="653.52" y="318.9" width="0.9" height="12.0" fill="#089981" opacity="0.8"/>
<rect x="652.87" y="323.4" width="2.2" height="5.9" fill="#089981"/>
<rect x="657.12" y="316.7" width="0.9" height="10.1" fill="#089981" opacity="0.8"/>
<rect x="656.47" y="322.1" width="2.2" height="2.1" fill="#089981"/>
<rect x="660.73" y="312.1" width="0.9" height="17.7" fill="#F23645" opacity="0.8"/>
<rect x="660.08" y="322.1" width="2.2" height="6.7" fill="#F23645"/>
<rect x="664.33" y="325.9" width="0.9" height="17.5" fill="#F23645" opacity="0.8"/>
<rect x="663.68" y="328.1" width="2.2" height="9.0" fill="#F23645"/>
<rect x="667.94" y="331.8" width="0.9" height="6.3" fill="#089981" opacity="0.8"/>
<rect x="667.29" y="332.6" width="2.2" height="4.2" fill="#089981"/>
<rect x="671.54" y="323.4" width="0.9" height="11.4" fill="#089981" opacity="0.8"/>
<rect x="670.89" y="325.9" width="2.2" height="7.9" fill="#089981"/>
<rect x="675.15" y="325.4" width="0.9" height="5.5" fill="#F23645" opacity="0.8"/>
<rect x="674.50" y="325.9" width="2.2" height="0.9" fill="#F23645"/>
<rect x="678.75" y="312.6" width="0.9" height="17.2" fill="#089981" opacity="0.8"/>
<rect x="678.10" y="315.4" width="2.2" height="13.0" fill="#089981"/>
<rect x="682.36" y="314.2" width="0.9" height="11.7" fill="#F23645" opacity="0.8"/>
<rect x="681.71" y="315.4" width="2.2" height="10.0" fill="#F23645"/>
<rect x="685.96" y="320.4" width="0.9" height="14.4" fill="#F23645" opacity="0.8"/>
<rect x="685.31" y="324.7" width="2.2" height="7.1" fill="#F23645"/>
<rect x="689.56" y="326.4" width="0.9" height="11.7" fill="#F23645" opacity="0.8"/>
<rect x="688.91" y="332.1" width="2.2" height="1.7" fill="#F23645"/>
<rect x="693.17" y="331.4" width="0.9" height="20.1" fill="#F23645" opacity="0.8"/>
<rect x="692.52" y="333.4" width="2.2" height="13.7" fill="#F23645"/>
<rect x="696.77" y="342.6" width="0.9" height="6.7" fill="#089981" opacity="0.8"/>
<rect x="696.12" y="346.0" width="2.2" height="2.1" fill="#089981"/>
<rect x="700.38" y="325.9" width="0.9" height="20.9" fill="#089981" opacity="0.8"/>
<rect x="699.73" y="330.4" width="2.2" height="16.1" fill="#089981"/>
<rect x="703.98" y="330.1" width="0.9" height="11.3" fill="#F23645" opacity="0.8"/>
<rect x="703.33" y="330.9" width="2.2" height="6.2" fill="#F23645"/>
<rect x="707.59" y="336.4" width="0.9" height="27.9" fill="#F23645" opacity="0.8"/>
<rect x="706.94" y="337.1" width="2.2" height="22.2" fill="#F23645"/>
<rect x="711.19" y="356.8" width="0.9" height="17.5" fill="#F23645" opacity="0.8"/>
<rect x="710.54" y="358.8" width="2.2" height="6.0" fill="#F23645"/>
<rect x="714.80" y="356.5" width="0.9" height="15.0" fill="#089981" opacity="0.8"/>
<rect x="714.15" y="357.1" width="2.2" height="7.7" fill="#089981"/>
<rect x="718.40" y="357.1" width="0.9" height="9.7" fill="#F23645" opacity="0.8"/>
<rect x="717.75" y="357.6" width="2.2" height="7.2" fill="#F23645"/>
<rect x="722.00" y="331.4" width="0.9" height="32.9" fill="#089981" opacity="0.8"/>
<rect x="721.36" y="338.8" width="2.2" height="25.0" fill="#089981"/>
<rect x="725.61" y="335.1" width="0.9" height="12.0" fill="#F23645" opacity="0.8"/>
<rect x="724.96" y="337.1" width="2.2" height="5.5" fill="#F23645"/>
<rect x="729.21" y="340.9" width="0.9" height="8.4" fill="#089981" opacity="0.8"/>
<rect x="728.56" y="341.8" width="2.2" height="0.8" fill="#089981"/>
<rect x="732.82" y="335.1" width="0.9" height="8.3" fill="#089981" opacity="0.8"/>
<rect x="732.17" y="338.1" width="2.2" height="4.5" fill="#089981"/>
<rect x="736.42" y="336.4" width="0.9" height="15.7" fill="#F23645" opacity="0.8"/>
<rect x="735.77" y="338.1" width="2.2" height="13.7" fill="#F23645"/>
<rect x="740.03" y="342.1" width="0.9" height="13.0" fill="#F23645" opacity="0.8"/>
<rect x="739.38" y="351.0" width="2.2" height="2.5" fill="#F23645"/>
<rect x="743.63" y="343.4" width="0.9" height="17.6" fill="#F23645" opacity="0.8"/>
<rect x="742.98" y="352.6" width="2.2" height="3.4" fill="#F23645"/>
<rect x="747.24" y="356.0" width="0.9" height="10.8" fill="#F23645" opacity="0.8"/>
<rect x="746.59" y="356.5" width="2.2" height="7.8" fill="#F23645"/>
<rect x="750.84" y="360.1" width="0.9" height="7.1" fill="#F23645" opacity="0.8"/>
<rect x="750.19" y="363.8" width="2.2" height="1.7" fill="#F23645"/>
<rect x="754.45" y="364.8" width="0.9" height="8.7" fill="#F23645" opacity="0.8"/>
<rect x="753.80" y="365.2" width="2.2" height="5.2" fill="#F23645"/>
<rect x="758.05" y="367.2" width="0.9" height="9.9" fill="#F23645" opacity="0.8"/>
<rect x="757.40" y="369.5" width="2.2" height="5.3" fill="#F23645"/>
<rect x="761.65" y="366.0" width="0.9" height="10.8" fill="#089981" opacity="0.8"/>
<rect x="761.00" y="367.0" width="2.2" height="8.2" fill="#089981"/>
<rect x="765.26" y="367.4" width="0.9" height="10.2" fill="#F23645" opacity="0.8"/>
<rect x="764.61" y="368.1" width="2.2" height="4.7" fill="#F23645"/>
<rect x="768.86" y="362.0" width="0.9" height="15.6" fill="#F23645" opacity="0.8"/>
<rect x="768.21" y="372.1" width="2.2" height="3.0" fill="#F23645"/>
<rect x="772.47" y="371.8" width="0.9" height="18.7" fill="#F23645" opacity="0.8"/>
<rect x="771.82" y="373.8" width="2.2" height="13.8" fill="#F23645"/>
<rect x="776.07" y="382.6" width="0.9" height="5.5" fill="#089981" opacity="0.8"/>
<rect x="775.42" y="383.8" width="2.2" height="3.3" fill="#089981"/>
<rect x="779.68" y="379.3" width="0.9" height="6.2" fill="#089981" opacity="0.8"/>
<rect x="779.03" y="383.1" width="2.2" height="1.2" fill="#089981"/>
<rect x="783.28" y="375.9" width="0.9" height="10.1" fill="#089981" opacity="0.8"/>
<rect x="782.63" y="377.1" width="2.2" height="6.7" fill="#089981"/>
<rect x="786.89" y="375.9" width="0.9" height="6.7" fill="#089981" opacity="0.8"/>
<rect x="786.24" y="376.4" width="2.2" height="1.2" fill="#089981"/>
<rect x="790.49" y="373.1" width="0.9" height="7.8" fill="#089981" opacity="0.8"/>
<rect x="789.84" y="373.8" width="2.2" height="3.3" fill="#089981"/>
<rect x="794.09" y="371.4" width="0.9" height="4.5" fill="#F23645" opacity="0.8"/>
<rect x="793.44" y="373.4" width="2.2" height="1.7" fill="#F23645"/>
<rect x="797.70" y="372.1" width="0.9" height="5.5" fill="#F23645" opacity="0.8"/>
<rect x="797.05" y="374.3" width="2.2" height="1.6" fill="#F23645"/>
<rect x="801.30" y="373.4" width="0.9" height="6.4" fill="#F23645" opacity="0.8"/>
<rect x="800.65" y="375.1" width="2.2" height="4.2" fill="#F23645"/>
<rect x="804.91" y="375.9" width="0.9" height="6.7" fill="#F23645" opacity="0.8"/>
<rect x="804.26" y="378.4" width="2.2" height="3.4" fill="#F23645"/>
<rect x="808.51" y="380.9" width="0.9" height="12.2" fill="#F23645" opacity="0.8"/>
<rect x="807.86" y="381.4" width="2.2" height="9.1" fill="#F23645"/>
<rect x="812.12" y="372.1" width="0.9" height="18.9" fill="#089981" opacity="0.8"/>
<rect x="811.47" y="379.8" width="2.2" height="10.7" fill="#089981"/>
<rect x="815.72" y="376.8" width="0.9" height="4.1" fill="#089981" opacity="0.8"/>
<rect x="815.07" y="378.1" width="2.2" height="1.7" fill="#089981"/>
<rect x="819.33" y="375.9" width="0.9" height="5.9" fill="#F23645" opacity="0.8"/>
<rect x="818.68" y="378.1" width="2.2" height="2.8" fill="#F23645"/>
<rect x="822.93" y="380.1" width="0.9" height="11.7" fill="#F23645" opacity="0.8"/>
<rect x="822.28" y="380.9" width="2.2" height="9.6" fill="#F23645"/>
<rect x="826.54" y="388.5" width="0.9" height="3.0" fill="#089981" opacity="0.8"/>
<rect x="825.89" y="389.8" width="2.2" height="0.8" fill="#089981"/>
<rect x="830.14" y="386.0" width="0.9" height="7.8" fill="#F23645" opacity="0.8"/>
<rect x="829.49" y="388.8" width="2.2" height="3.3" fill="#F23645"/>
<rect x="833.74" y="381.8" width="0.9" height="10.8" fill="#089981" opacity="0.8"/>
<rect x="833.09" y="382.1" width="2.2" height="10.0" fill="#089981"/>
<rect x="837.35" y="375.4" width="0.9" height="12.2" fill="#089981" opacity="0.8"/>
<rect x="836.70" y="375.9" width="2.2" height="6.2" fill="#089981"/>
<rect x="840.95" y="374.3" width="0.9" height="8.3" fill="#F23645" opacity="0.8"/>
<rect x="840.30" y="377.1" width="2.2" height="4.7" fill="#F23645"/>
<rect x="844.56" y="381.7" width="0.9" height="7.3" fill="#F23645" opacity="0.8"/>
<rect x="843.91" y="381.8" width="2.2" height="5.3" fill="#F23645"/>
<rect x="14.5" y="453.1" width="168.2" height="27.1" fill="#ffffff" opacity="0.55"/>
<path transform="translate(41,459.3) scale(0.8,0.78)" d="M10 18.5 C4 13.5 0.3 10 0.3 5.6 C0.3 2.4 2.7 0.3 5.4 0.3 C7.3 0.3 9 1.3 10 3 C11 1.3 12.7 0.3 14.6 0.3 C17.3 0.3 19.7 2.4 19.7 5.6 C19.7 10 16 13.5 10 18.5 Z" fill="#3D9AE2" stroke="#3B4A58" stroke-width="1.4"/>
<path transform="translate(41,459.3) scale(0.8,0.78)" d="M4.2 5.2 C4.6 6.8 5.3 8 6.4 9.2" fill="none" stroke="#9CCDF3" stroke-width="1.1" stroke-linecap="round"/>
<rect x="957.7" y="22.4" width="56.4" height="18.8" rx="3" fill="#ffffff" opacity="1"/>
<rect x="932.0" y="60.7" width="22.8" height="11.9" rx="0" fill="#E3EEFB" opacity="1"/>
<rect x="955.4" y="60.7" width="54.1" height="11.9" rx="0" fill="#E3EEFB" opacity="1"/>
<rect x="955.5" y="77.8" width="54.0" height="12.1" rx="1.2" fill="#FF9800" opacity="1"/>
<rect x="955.5" y="299.5" width="54.2" height="12.4" rx="1.2" fill="#26C6DA" opacity="1"/>
<rect x="955.5" y="354.2" width="54.2" height="12.2" rx="1.2" fill="#FF8200" opacity="1"/>
<rect x="955.5" y="368.7" width="54.2" height="12.3" rx="1.2" fill="#FF0000" opacity="1"/>
<rect x="955.5" y="380.8" width="54.2" height="22.2" rx="1.2" fill="#F23645" opacity="1"/>
<rect x="933.4" y="443.7" width="21.4" height="12.1" rx="0" fill="#E3EEFB" opacity="1"/>
<rect x="955.4" y="443.7" width="54.1" height="12.1" rx="0" fill="#E3EEFB" opacity="1"/>
<circle cx="845.05" cy="478.45" r="7.15" fill="#ffffff" stroke="#9C27B0" stroke-width="1.3"/>
<path d="M846.9499999999999 474.55 L841.8499999999999 479.34999999999997 L844.55 479.34999999999997 L842.9499999999999 482.65 L848.05 477.65 L845.4499999999999 477.65 Z" fill="#9C27B0" stroke="#9C27B0" stroke-width="0.25" stroke-linejoin="round"/>
<circle cx="850.0" cy="473.5" r="3.2" fill="#FFF8EC"/>
<circle cx="850.0" cy="473.5" r="2.0" fill="#F23645"/>
<circle cx="862.75" cy="478.25" r="7.25" fill="#ffffff" stroke="#F4565F" stroke-width="1.5"/>
<clipPath id="fc"><circle cx="862.75" cy="478.25" r="5.9"/></clipPath>
<g clip-path="url(#fc)">
<rect x="856.75" y="472.25" width="12" height="12" fill="#ffffff"/>
<rect x="856.75" y="472.4" width="12" height="2.1" fill="#F4525E" opacity="0.75"/>
<rect x="856.75" y="476.9" width="12" height="2.6" fill="#F23645"/>
<rect x="856.75" y="481.2" width="12" height="2.3" fill="#F23645"/>
<rect x="856.75" y="472.25" width="7.3" height="7.45" fill="#3A90EA"/>
<rect x="858.45" y="472.65" width="0.7" height="6.6" fill="#8EC3F5" opacity="0.8"/>
<rect x="860.20" y="472.65" width="0.7" height="6.6" fill="#8EC3F5" opacity="0.8"/>
<rect x="861.95" y="472.65" width="0.7" height="6.6" fill="#8EC3F5" opacity="0.8"/>
</g>
<g transform="translate(8.8,523.4) scale(0.575)" fill="#0e0e12"><path d="M14 19H7V6H0V0h14v19z"/><circle cx="20" cy="3.2" r="3.2"/><path d="M28 19h-7.5l8-19H36l-8 19z"/></g>
</svg>
<span class="t" style="left:7.50px;top:6.26px;font-size:9.50px;line-height:9.50px;color:#1a1a1a;transform:scaleX(0.8979);">Yash_Jain_1309 created with TradingView.com, Dec 11, 2025 15:09 UTC+5:30</span>
<span class="t" style="left:13.50px;top:25.80px;font-size:8.50px;line-height:8.50px;color:#131722;transform:scaleX(0.8524);">WLDUSD</span>
<span class="t" style="left:48.30px;top:24.27px;font-size:11.50px;line-height:11.50px;color:#131722;font-weight:bold;">·</span>
<span class="t" style="left:53.80px;top:25.80px;font-size:8.50px;line-height:8.50px;color:#131722;transform:scaleX(0.8099);">1D</span>
<span class="t" style="left:66.40px;top:24.27px;font-size:11.50px;line-height:11.50px;color:#131722;font-weight:bold;">·</span>
<span class="t" style="left:71.90px;top:25.80px;font-size:8.50px;line-height:8.50px;color:#131722;transform:scaleX(0.9571);">Binance</span>
<span class="t" style="left:107.30px;top:25.80px;font-size:8.50px;line-height:8.50px;color:#131722;">O</span>
<span class="t" style="left:113.20px;top:25.47px;font-size:8.90px;line-height:8.90px;color:#F23645;transform:scaleX(0.9272);">0.61666438</span>
<span class="t" style="left:162.30px;top:25.80px;font-size:8.50px;line-height:8.50px;color:#131722;">H</span>
<span class="t" style="left:168.20px;top:25.47px;font-size:8.90px;line-height:8.90px;color:#F23645;transform:scaleX(0.9145);">0.61700012</span>
<span class="t" style="left:217.00px;top:25.80px;font-size:8.50px;line-height:8.50px;color:#131722;">L</span>
<span class="t" style="left:221.80px;top:25.47px;font-size:8.90px;line-height:8.90px;color:#F23645;transform:scaleX(0.9272);">0.57922026</span>
<span class="t" style="left:271.00px;top:25.80px;font-size:8.50px;line-height:8.50px;color:#131722;">C</span>
<span class="t" style="left:276.30px;top:25.47px;font-size:8.90px;line-height:8.90px;color:#F23645;transform:scaleX(0.9187);">0.59003206</span>
<span class="t" style="left:325.50px;top:25.47px;font-size:8.90px;line-height:8.90px;color:#F23645;transform:scaleX(0.9116);">−0.02649846 (−4.30%)</span>
<span class="t" style="left:961.40px;top:459.93px;font-size:8.90px;line-height:8.90px;color:#131722;transform:scaleX(0.9421);">0.20000000</span>
<span class="t" style="left:961.40px;top:420.39px;font-size:8.90px;line-height:8.90px;color:#131722;transform:scaleX(0.9421);">0.40000000</span>
<span class="t" style="left:961.40px;top:341.57px;font-size:8.90px;line-height:8.90px;color:#131722;transform:scaleX(0.9421);">0.80000000</span>
<span class="t" style="left:961.40px;top:262.23px;font-size:8.90px;line-height:8.90px;color:#131722;transform:scaleX(0.9421);">1.20000000</span>
<span class="t" style="left:961.40px;top:222.69px;font-size:8.90px;line-height:8.90px;color:#131722;transform:scaleX(0.9421);">1.40000000</span>
<span class="t" style="left:961.40px;top:183.15px;font-size:8.90px;line-height:8.90px;color:#131722;transform:scaleX(0.9421);">1.60000000</span>
<span class="t" style="left:961.40px;top:143.61px;font-size:8.90px;line-height:8.90px;color:#131722;transform:scaleX(0.9421);">1.80000000</span>
<span class="t" style="left:961.40px;top:104.07px;font-size:8.90px;line-height:8.90px;color:#131722;transform:scaleX(0.9421);">2.00000000</span>
<span class="t" style="left:964.30px;top:29.00px;font-size:7.80px;line-height:7.80px;color:#131722;transform:scaleX(0.9229);">USD</span>
<span class="t" style="left:935.20px;top:63.29px;font-size:8.40px;line-height:8.40px;color:#131722;transform:scaleX(0.9608);">High</span>
<span class="t" style="left:961.40px;top:62.47px;font-size:8.90px;line-height:8.90px;color:#131722;transform:scaleX(0.9555);">2.21176698</span>
<span class="t" style="left:961.40px;top:79.67px;font-size:8.90px;line-height:8.90px;color:#131722;transform:scaleX(0.9421);">2.12438229</span>
<span class="t" style="left:961.40px;top:301.47px;font-size:8.90px;line-height:8.90px;color:#131722;transform:scaleX(0.9421);">1.00345795</span>
<span class="t" style="left:961.40px;top:356.07px;font-size:8.90px;line-height:8.90px;color:#ffffff;transform:scaleX(0.9421);">0.72612703</span>
<span class="t" style="left:961.40px;top:370.67px;font-size:8.90px;line-height:8.90px;color:#ffffff;transform:scaleX(0.9421);">0.62720737</span>
<span class="t" style="left:961.40px;top:382.67px;font-size:8.90px;line-height:8.90px;color:#ffffff;transform:scaleX(0.9421);">0.59003206</span>
<span class="t" style="left:961.40px;top:393.07px;font-size:8.90px;line-height:8.90px;color:#ffffff;transform:scaleX(0.9583);opacity:0.8;">14:20:37</span>
<span class="t" style="left:937.00px;top:446.29px;font-size:8.40px;line-height:8.40px;color:#131722;transform:scaleX(0.9604);">Low</span>
<span class="t" style="left:961.40px;top:445.47px;font-size:8.90px;line-height:8.90px;color:#131722;transform:scaleX(0.9421);">0.27365333</span>
<span class="t" style="left:29.27px;top:493.89px;font-size:8.40px;line-height:8.40px;color:#131722;">May</span>
<span class="t" style="left:142.17px;top:493.89px;font-size:8.40px;line-height:8.40px;color:#131722;">Jun</span>
<span class="t" style="left:251.71px;top:493.89px;font-size:8.40px;line-height:8.40px;color:#131722;">Jul</span>
<span class="t" style="left:361.34px;top:493.89px;font-size:8.40px;line-height:8.40px;color:#131722;">Aug</span>
<span class="t" style="left:473.08px;top:493.89px;font-size:8.40px;line-height:8.40px;color:#131722;">Sep</span>
<span class="t" style="left:582.15px;top:493.89px;font-size:8.40px;line-height:8.40px;color:#131722;">Oct</span>
<span class="t" style="left:692.96px;top:493.89px;font-size:8.40px;line-height:8.40px;color:#131722;">Nov</span>
<span class="t" style="left:801.09px;top:493.89px;font-size:8.40px;line-height:8.40px;color:#131722;">Dec</span>
<span class="t" style="left:910.76px;top:493.89px;font-size:8.40px;line-height:8.40px;color:#131722;font-weight:bold;">2026</span>
<span class="t" style="left:59.00px;top:459.46px;font-size:14.70px;line-height:14.70px;color:#B35D65;transform:scaleX(0.9130);-webkit-text-stroke:0.15px #B35D65;">Yash_Jain_1309</span>
<span class="t" style="left:35.80px;top:520.95px;font-size:15.30px;line-height:15.30px;color:#0e0e12;transform:scaleX(0.9572);font-weight:bold;-webkit-text-stroke:0;">TradingView</span>
</body></html>
